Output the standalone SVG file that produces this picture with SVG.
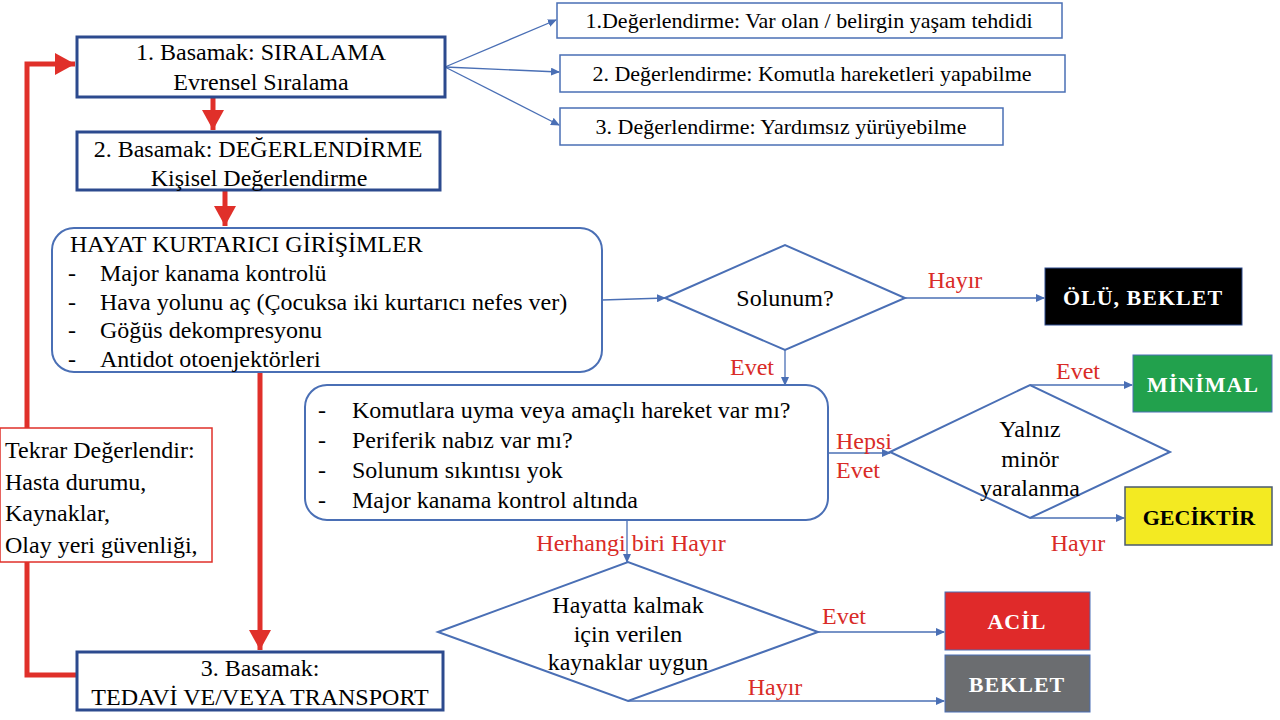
<svg xmlns="http://www.w3.org/2000/svg" width="1280" height="720" viewBox="0 0 1280 720" font-family="Liberation Serif">
<defs>
<style>
.r{fill:#d92b27}
.w{fill:#fff;font-weight:bold;letter-spacing:1px}
.c{text-anchor:middle}
.step{fill:#fff;stroke:#2c4a8e;stroke-width:3}
.thin{fill:#fff;stroke:#4a6fb5;stroke-width:1.5}
.rnd{fill:#fff;stroke:#4a6fb5;stroke-width:2}
.dia{fill:#fff;stroke:#4a6fb5;stroke-width:2}
.bl{fill:none;stroke:#4a6fb5;stroke-width:1.3;marker-end:url(#ab)}
.rd{fill:none;stroke:#e0302a;stroke-width:5;marker-end:url(#ar)}
</style>
<marker id="ar" markerUnits="userSpaceOnUse" markerWidth="22" markerHeight="22" refX="20" refY="11" orient="auto"><path d="M0,0 L20,11 L0,22 Z" fill="#e0302a"/></marker>
<marker id="ab" markerUnits="userSpaceOnUse" markerWidth="9" markerHeight="8" refX="8" refY="4" orient="auto"><path d="M0,0 L9,4 L0,8 Z" fill="#4a6fb5"/></marker>
</defs>
<rect width="1280" height="720" fill="#fff"/>
<g id="connectors">
<path class="rd" d="M213,97 V130"/>
<path class="rd" d="M225,190 V226"/>
<path class="rd" d="M260,372 V650"/>
<path class="rd" d="M77,675 H27 V64 H75"/>
<path class="bl" d="M445,67 L556,20"/>
<path class="bl" d="M445,67 L559,72"/>
<path class="bl" d="M445,67 L559,125"/>
<path class="bl" d="M602,300 L665,298"/>
<path class="bl" d="M905,298 H1044"/>
<path class="bl" d="M785,350 V385"/>
<path class="bl" d="M828,453 H890"/>
<path class="bl" d="M1030,385 H1132"/>
<path class="bl" d="M1030,518 H1124"/>
<path class="bl" d="M627,520 V562"/>
<path class="bl" d="M818,632 H944"/>
<path class="bl" d="M628,701 H944"/>
</g>
<g id="labels">
<text style="font-family:'Liberation Serif';font-size:24px" class="r c" x="955" y="288">Hayır</text>
<text style="font-family:'Liberation Serif';font-size:24px" class="r c" x="752" y="375">Evet</text>
<text style="font-family:'Liberation Serif';font-size:24px" class="r" x="836" y="449">Hepsi</text>
<text style="font-family:'Liberation Serif';font-size:24px" class="r" x="836" y="478">Evet</text>
<text style="font-family:'Liberation Serif';font-size:24px" class="r c" x="1078" y="379">Evet</text>
<text style="font-family:'Liberation Serif';font-size:24px" class="r c" x="1078" y="551">Hayır</text>
<text style="font-family:'Liberation Serif';font-size:24px" class="r c" x="631" y="551">Herhangi biri Hayır</text>
<text style="font-family:'Liberation Serif';font-size:24px" class="r c" x="844" y="624">Evet</text>
<text style="font-family:'Liberation Serif';font-size:24px" class="r c" x="775" y="695">Hayır</text>
</g>
<g id="step1">
<rect class="step" x="77" y="37" width="368" height="60"/>
<text style="font-family:'Liberation Serif';font-size:24px" class="c" x="261" y="60">1.   Basamak: SIRALAMA</text>
<text style="font-family:'Liberation Serif';font-size:24px" class="c" x="261" y="90">Evrensel Sıralama</text>
</g>
<g id="step2">
<rect class="step" x="77" y="132" width="363" height="58"/>
<text style="font-family:'Liberation Serif';font-size:24px" class="c" x="258" y="157">2. Basamak: DEĞERLENDİRME</text>
<text style="font-family:'Liberation Serif';font-size:24px" class="c" x="259" y="186">Kişisel  Değerlendirme</text>
</g>
<g id="eval1">
<rect class="thin" x="557" y="3" width="505" height="35"/>
<text style="font-family:'Liberation Serif';font-size:22px" class="c" x="809" y="28">1.Değerlendirme:  Var olan / belirgin  yaşam  tehdidi</text>
</g>
<g id="eval2">
<rect class="thin" x="560" y="55" width="505" height="37"/>
<text style="font-family:'Liberation Serif';font-size:22px" class="c" x="812" y="81">2. Değerlendirme:  Komutla hareketleri  yapabilme</text>
</g>
<g id="eval3">
<rect class="thin" x="560" y="108" width="443" height="37"/>
<text style="font-family:'Liberation Serif';font-size:22px" class="c" x="781" y="134">3. Değerlendirme:  Yardımsız  yürüyebilme</text>
</g>
<g id="lifesaving">
<rect class="rnd" x="52" y="228" width="550" height="144" rx="22"/>
<text style="font-family:'Liberation Serif';font-size:24px" x="70" y="252">HAYAT KURTARICI GİRİŞİMLER</text>
<text style="font-family:'Liberation Serif';font-size:24px" x="68" y="281">-</text><text style="font-family:'Liberation Serif';font-size:24px" x="100" y="281">Major kanama kontrolü</text>
<text style="font-family:'Liberation Serif';font-size:24px" x="68" y="310">-</text><text style="font-family:'Liberation Serif';font-size:24px" x="100" y="310">Hava yolunu aç (Çocuksa iki kurtarıcı nefes ver)</text>
<text style="font-family:'Liberation Serif';font-size:24px" x="68" y="338">-</text><text style="font-family:'Liberation Serif';font-size:24px" x="100" y="338">Göğüs dekompresyonu</text>
<text style="font-family:'Liberation Serif';font-size:24px" x="68" y="367">-</text><text style="font-family:'Liberation Serif';font-size:24px" x="100" y="367">Antidot otoenjektörleri</text>
</g>
<g id="reassess">
<rect x="0" y="428" width="212" height="134" fill="#fff" stroke="#e0302a" stroke-width="1.5"/>
<text style="font-family:'Liberation Serif';font-size:24px" x="5" y="458">Tekrar Değerlendir:</text>
<text style="font-family:'Liberation Serif';font-size:24px" x="5" y="490">Hasta durumu,</text>
<text style="font-family:'Liberation Serif';font-size:24px" x="5" y="521">Kaynaklar,</text>
<text style="font-family:'Liberation Serif';font-size:24px" x="5" y="553">Olay yeri güvenliği,</text>
</g>
<g id="step3">
<rect class="step" x="77" y="652" width="366" height="58"/>
<text style="font-family:'Liberation Serif';font-size:24px" class="c" x="260" y="676">3. Basamak:</text>
<text style="font-family:'Liberation Serif';font-size:24px" class="c" x="260" y="705">TEDAVİ VE/VEYA TRANSPORT</text>
</g>
<g id="breathing">
<polygon class="dia" points="665,298 785,245 905,298 785,350"/>
<text style="font-family:'Liberation Serif';font-size:24px" class="c" x="785" y="306">Solunum?</text>
</g>
<g id="dead">
<rect x="1045" y="268" width="197" height="57" fill="#000" stroke="#2c4a8e" stroke-width="1"/>
<text style="font-family:'Liberation Serif';font-size:22px" class="w c" x="1143" y="305">ÖLÜ, BEKLET</text>
</g>
<g id="checks">
<rect class="rnd" x="305" y="385" width="523" height="135" rx="22"/>
<text style="font-family:'Liberation Serif';font-size:24px" x="318" y="418">-</text><text style="font-family:'Liberation Serif';font-size:24px" x="352" y="418">Komutlara uyma veya amaçlı  hareket var mı?</text>
<text style="font-family:'Liberation Serif';font-size:24px" x="318" y="448">-</text><text style="font-family:'Liberation Serif';font-size:24px" x="352" y="448">Periferik nabız var mı?</text>
<text style="font-family:'Liberation Serif';font-size:24px" x="318" y="478">-</text><text style="font-family:'Liberation Serif';font-size:24px" x="352" y="478">Solunum sıkıntısı  yok</text>
<text style="font-family:'Liberation Serif';font-size:24px" x="318" y="508">-</text><text style="font-family:'Liberation Serif';font-size:24px" x="352" y="508">Major kanama kontrol altında</text>
</g>
<g id="minor">
<polygon class="dia" points="890,452 1030,385 1170,452 1030,518"/>
<text style="font-family:'Liberation Serif';font-size:24px" class="c" x="1030" y="437">Yalnız</text>
<text style="font-family:'Liberation Serif';font-size:24px" class="c" x="1030" y="467">minör</text>
<text style="font-family:'Liberation Serif';font-size:24px" class="c" x="1030" y="496">yaralanma</text>
</g>
<g id="minimal">
<rect x="1133" y="355" width="139" height="57" fill="#22a14d" stroke="#4a6fb5" stroke-width="1"/>
<text style="font-family:'Liberation Serif';font-size:22px" class="w c" x="1203" y="392">MİNİMAL</text>
</g>
<g id="delay">
<rect x="1125" y="487" width="147" height="58" fill="#f3ea22" stroke="#4a5a6e" stroke-width="1.5"/>
<text style="font-family:'Liberation Serif';font-size:22px;font-weight:bold" class="c" x="1199" y="525">GECİKTİR</text>
</g>
<g id="resources">
<polygon class="dia" points="438,632 628,562 818,632 628,701"/>
<text style="font-family:'Liberation Serif';font-size:24px" class="c" x="628" y="613">Hayatta kalmak</text>
<text style="font-family:'Liberation Serif';font-size:24px" class="c" x="628" y="642">için  verilen</text>
<text style="font-family:'Liberation Serif';font-size:24px" class="c" x="628" y="670">kaynaklar  uygun</text>
</g>
<g id="urgent">
<rect x="945" y="592" width="145" height="58" fill="#e02a2a" stroke="#4a6fb5" stroke-width="1"/>
<text style="font-family:'Liberation Serif';font-size:22px" class="w c" x="1017" y="629">ACİL</text>
</g>
<g id="wait">
<rect x="945" y="655" width="145" height="57" fill="#6b6d70" stroke="#4a6fb5" stroke-width="1"/>
<text style="font-family:'Liberation Serif';font-size:22px" class="w c" x="1017" y="692">BEKLET</text>
</g>
</svg>
